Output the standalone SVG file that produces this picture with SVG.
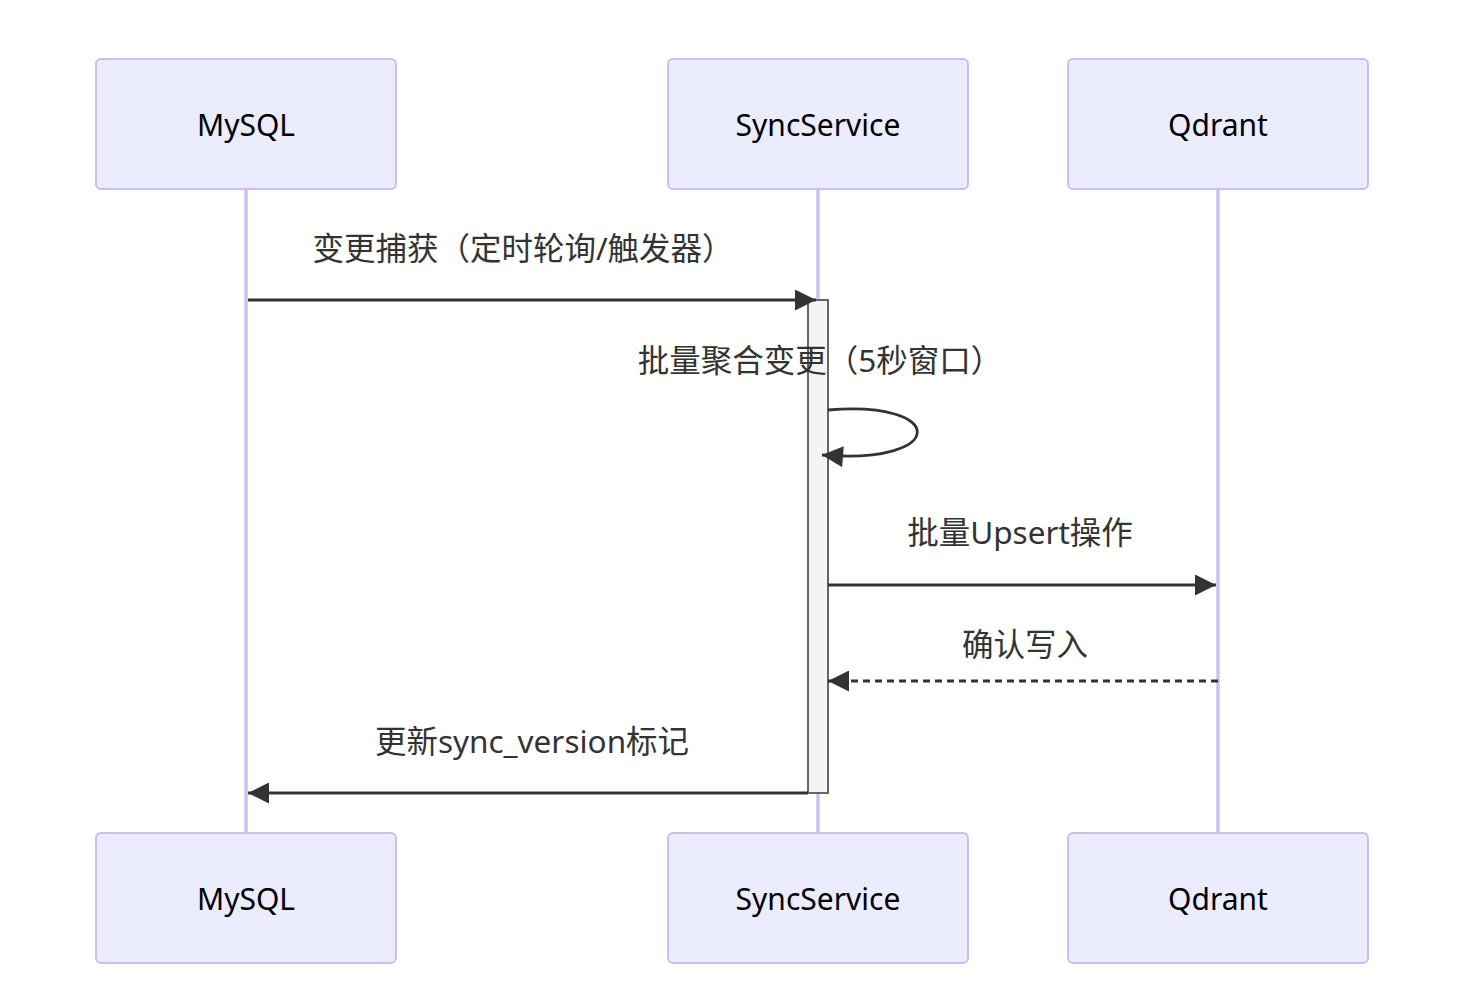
<svg xmlns="http://www.w3.org/2000/svg" width="1472" height="1008" viewBox="0 0 1472 1008">
<style>
.actor{fill:#ECECFF;stroke:#CDBDF0;stroke-width:2}
.life{stroke:#CFC0EE;stroke-width:3.5}
.at{font-family:"Noto Sans","Noto Sans CJK SC",sans-serif;font-size:30px;fill:#000;text-anchor:middle;dominant-baseline:central}
.mt{font-family:"Noto Sans","Noto Sans CJK SC",sans-serif;font-size:31.5px;fill:#333;text-anchor:middle;dominant-baseline:central}
.msg{stroke:#333;stroke-width:2.8;fill:none}
.dash{stroke-dasharray:7,5}
.act{fill:#F4F4F4;stroke:#666;stroke-width:2}
</style>
<defs>
<marker id="ah" viewBox="0 0 12 12" refX="12" refY="6" markerWidth="22" markerHeight="21" markerUnits="userSpaceOnUse" orient="auto">
<path d="M0,0 L12,6 L0,12 z" fill="#333"/>
</marker>
</defs>
<rect width="1472" height="1008" fill="#fff"/>
<g id="lifelines">
<line class="life" x1="246" y1="189" x2="246" y2="833"/>
<line class="life" x1="818" y1="189" x2="818" y2="833"/>
<line class="life" x1="1218" y1="189" x2="1218" y2="833"/>
</g>
<g id="mysql-top"><rect class="actor" x="96" y="59" width="300" height="130" rx="5"/><text class="at" x="246" y="124">MySQL</text></g>
<g id="sync-top"><rect class="actor" x="668" y="59" width="300" height="130" rx="5"/><text class="at" x="818" y="124">SyncService</text></g>
<g id="qdrant-top"><rect class="actor" x="1068" y="59" width="300" height="130" rx="5"/><text class="at" x="1218" y="124">Qdrant</text></g>
<g id="mysql-bottom"><rect class="actor" x="96" y="833" width="300" height="130" rx="5"/><text class="at" x="246" y="898">MySQL</text></g>
<g id="sync-bottom"><rect class="actor" x="668" y="833" width="300" height="130" rx="5"/><text class="at" x="818" y="898">SyncService</text></g>
<g id="qdrant-bottom"><rect class="actor" x="1068" y="833" width="300" height="130" rx="5"/><text class="at" x="1218" y="898">Qdrant</text></g>
<g id="activation"><rect class="act" x="808" y="300" width="20" height="493"/></g>
<g id="connectors">
<line class="msg" x1="248" y1="300" x2="816" y2="300" marker-end="url(#ah)"/>
<path class="msg" d="M828,410 C948,400 948,465 822,455" marker-end="url(#ah)"/>
<line class="msg" x1="828" y1="585" x2="1216" y2="585" marker-end="url(#ah)"/>
<line class="msg dash" x1="1218" y1="681" x2="828" y2="681" marker-end="url(#ah)"/>
<line class="msg" x1="808" y1="793" x2="248" y2="793" marker-end="url(#ah)"/>
</g>
<g id="labels">
<text class="mt" x="523" y="247">变更捕获（定时轮询/触发器）</text>
<text class="mt" x="820" y="359">批量聚合变更（5秒窗口）</text>
<text class="mt" x="1020" y="531">批量Upsert操作</text>
<text class="mt" x="1025" y="643">确认写入</text>
<text class="mt" x="532" y="740">更新sync_version标记</text>
</g>
</svg>
